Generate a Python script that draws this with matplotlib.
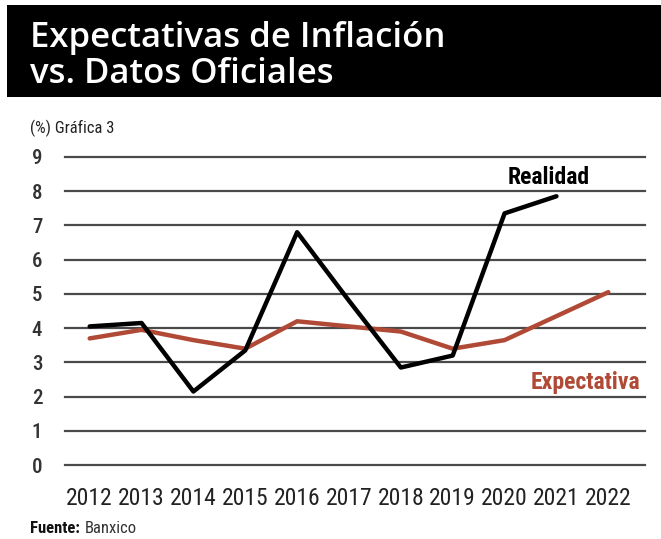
import matplotlib
matplotlib.use("Agg")
import matplotlib.pyplot as plt
from matplotlib.patches import Rectangle

# Data
years = [2012, 2013, 2014, 2015, 2016, 2017, 2018, 2019, 2020, 2021, 2022]
realidad = [4.05, 4.15, 2.15, 3.35, 6.8, 4.8, 2.85, 3.2, 7.35, 7.85]
expectativa = [3.7, 3.95, 3.65, 3.4, 4.2, 4.05, 3.9, 3.4, 3.65, 4.35, 5.05]
yticks = list(range(0, 10))

cond = "Roboto Condensed"
red = "#b04a36"

fig = plt.figure(figsize=(6.61, 5.39), dpi=100)
fig.patch.set_facecolor("white")

# title box
fig.patches.append(Rectangle((0.011, 0.82), 0.989, 0.171, transform=fig.transFigure,
                             facecolor="black", edgecolor="none"))
fig.text(0.045, 0.93, "Expectativas de Inflación", color="white", fontsize=25,
         family="Open Sans", weight="semibold", va="center")
fig.text(0.045, 0.862, "vs. Datos Oficiales", color="white", fontsize=25,
         family="Open Sans", weight="semibold", va="center")

fig.text(0.045, 0.762, "(%) Gráfica 3", fontsize=12, family=cond, color="#222", va="center")
fig.text(0.045, 0.02, "Fuente:", fontsize=12, family=cond, weight="bold", color="#111", va="center")
fig.text(0.128, 0.02, "Banxico", fontsize=12, family=cond, color="#333", va="center")

ax = fig.add_axes([0.098, 0.137, 0.878, 0.572])
ax.set_ylim(0, 9)
ax.set_xlim(2011.52, 2022.71)
for y in yticks:
    ax.axhline(y, color="#4a4a4a", lw=1.6, zorder=1, clip_on=False)

ax.plot(years, expectativa, color=red, lw=3.2, zorder=2, clip_on=False, solid_capstyle="round")
ax.plot(years[:len(realidad)], realidad, color="black", lw=3.2, zorder=3, clip_on=False,
        solid_capstyle="round")

ax.text(2020.85, 8.4, "Realidad", fontsize=17, family=cond, weight="bold",
        color="black", ha="center", va="center")
ax.text(2021.55, 2.4, "Expectativa", fontsize=17, family=cond, weight="bold",
        color=red, ha="center", va="center")

for s in ax.spines.values():
    s.set_visible(False)
ax.set_yticks(yticks)
ax.set_yticklabels([str(v) for v in yticks], family=cond, fontsize=15, color="#333",
                   weight="medium", ha="center")
ax.set_xticks(years)
ax.set_xticklabels([str(v) for v in years], family=cond, fontsize=17, color="#222")
ax.tick_params(length=0)
ax.tick_params(axis="y", pad=20)
ax.tick_params(axis="x", pad=16)

fig.savefig("out.png", dpi=100)
